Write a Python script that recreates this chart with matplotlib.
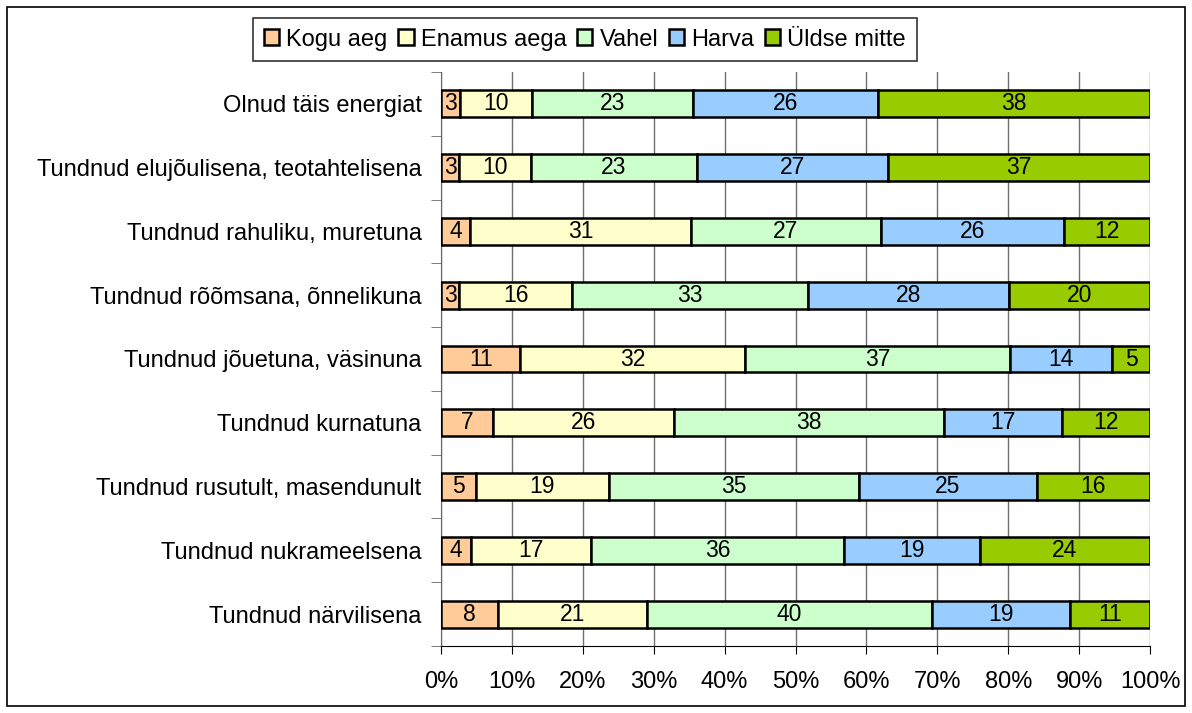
import numpy as np
import matplotlib
matplotlib.use("Agg")
import matplotlib.pyplot as plt
from matplotlib.patches import Rectangle
from matplotlib.ticker import FixedLocator, PercentFormatter

plt.rcParams['font.family'] = ['Liberation Sans', 'DejaVu Sans']

# Categories, top to bottom
categories = [
    "Olnud täis energiat",
    "Tundnud elujõulisena, teotahtelisena",
    "Tundnud rahuliku, muretuna",
    "Tundnud rõõmsana, õnnelikuna",
    "Tundnud jõuetuna, väsinuna",
    "Tundnud kurnatuna",
    "Tundnud rusutult, masendunult",
    "Tundnud nukrameelsena",
    "Tundnud närvilisena",
]
series_names = ["Kogu aeg", "Enamus aega", "Vahel", "Harva", "Üldse mitte"]

# Shares in percent
kogu_aeg = [2.7, 2.6, 4.1, 2.6, 11.2, 7.3, 4.9, 4.3, 8.0]
enamus_aega = [10.2, 10.1, 31.2, 15.9, 31.7, 25.6, 18.8, 16.9, 21.0]
vahel = [22.6, 23.4, 26.7, 33.2, 37.4, 38.0, 35.3, 35.7, 40.3]
harva = [26.2, 27.0, 25.9, 28.4, 14.4, 16.7, 25.0, 19.1, 19.4]
uldse_mitte = [38.3, 36.9, 12.1, 19.9, 5.3, 12.4, 16.0, 24.0, 11.3]

colors = ["#FFCC99", "#FFFFCC", "#CCFFCC", "#99CCFF", "#99CC00"]

data = np.array([kogu_aeg, enamus_aega, vahel, harva, uldse_mitte])
data = data / data.sum(axis=0) * 100

fig = plt.figure(figsize=(11.92, 7.13), dpi=100)
ax = fig.add_axes([441 / 1192, 1 - 646 / 713, (1150 - 441) / 1192, (646 - 72) / 713])

y = np.arange(len(categories))
left = np.zeros(len(categories))
for i, name in enumerate(series_names):
    bars = ax.barh(y, data[i], left=left, height=0.42, color=colors[i],
                   edgecolor='black', linewidth=1.8, label=name, zorder=3)
    for j, rect in enumerate(bars):
        ax.text(left[j] + data[i][j] / 2, y[j], "%d" % round(data[i][j]),
                ha='center', va='center', fontsize=16.5, zorder=4)
    left += data[i]

ax.set_xlim(0, 100)
ax.set_ylim(len(categories) - 0.5, -0.5)
ax.set_yticks(y)
ax.set_yticklabels(categories, fontsize=17)
ax.yaxis.set_minor_locator(FixedLocator(np.arange(-0.5, len(categories), 1)))
ax.tick_params(axis='y', which='major', length=0, pad=14)
ax.tick_params(axis='y', which='minor', length=7, color='#666666')
ax.set_xticks(np.arange(0, 101, 10))
ax.xaxis.set_major_formatter(PercentFormatter(decimals=0))
ax.tick_params(axis='x', length=6, labelsize=17, pad=12)

ax.grid(axis='x', color='#707070', linewidth=1, zorder=0)
for side in ['top', 'right']:
    ax.spines[side].set_visible(False)
ax.spines['left'].set_color('#666666')
ax.spines['bottom'].set_color('black')

leg = fig.legend(loc='upper center', bbox_to_anchor=(585 / 1192, 1 - 18 / 713), ncol=5,
                 fontsize=17, frameon=True, fancybox=False, edgecolor='black',
                 handlelength=0.65, handleheight=0.65, handletextpad=0.3,
                 columnspacing=0.45, borderpad=0.45, borderaxespad=0)
leg.get_frame().set_linewidth(1.2)

fig.patches.append(Rectangle((7 / 1192, 7 / 713), 1178 / 1192, 699 / 713,
                             transform=fig.transFigure, fill=False,
                             edgecolor='black', linewidth=1.2))

fig.savefig("out.png", dpi=100)
